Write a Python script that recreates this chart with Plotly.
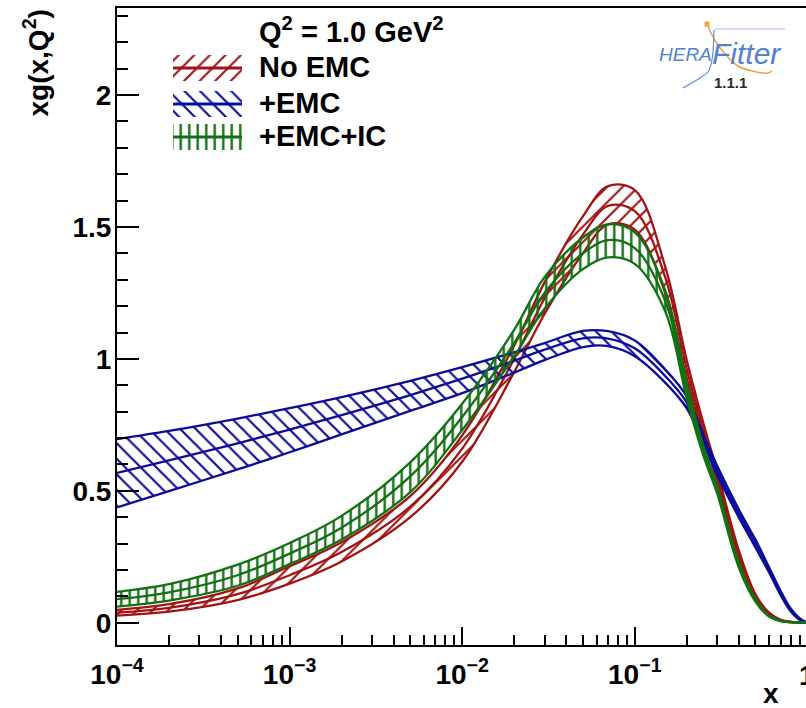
import plotly.graph_objects as go

# x grid (log spaced) and gluon momentum distributions xg(x, Q^2) at Q^2 = 1 GeV^2
x_vals = [1e-4, 2e-4, 5e-4, 1e-3, 2e-3, 5e-3, 1e-2, 2e-2, 3e-2, 5e-2, 7e-2,
          0.1, 0.15, 0.2, 0.25, 0.3, 0.4, 0.5, 0.6, 0.7, 0.8, 0.9, 1.0]

no_emc_central = [0.038, 0.056, 0.108, 0.180, 0.268, 0.440, 0.660, 1.000, 1.230, 1.470, 1.580,
                  1.560, 1.310, 0.960, 0.730, 0.555, 0.260, 0.100, 0.035, 0.010, 0.003, 0.001, 0.0]
no_emc_upper = [0.049, 0.070, 0.130, 0.214, 0.305, 0.480, 0.710, 1.050, 1.290, 1.540, 1.655,
                1.640, 1.350, 0.995, 0.755, 0.575, 0.275, 0.108, 0.038, 0.011, 0.003, 0.001, 0.0]
no_emc_lower = [0.027, 0.042, 0.086, 0.148, 0.232, 0.400, 0.610, 0.950, 1.170, 1.400, 1.510,
                1.490, 1.250, 0.925, 0.705, 0.535, 0.245, 0.093, 0.032, 0.009, 0.003, 0.001, 0.0]

emc_central = [0.568, 0.615, 0.680, 0.732, 0.787, 0.863, 0.925, 0.993, 1.035, 1.078, 1.077,
               1.040, 0.935, 0.835, 0.695, 0.578, 0.415, 0.300, 0.200, 0.112, 0.048, 0.014, 0.0]
emc_upper = [0.696, 0.727, 0.774, 0.813, 0.855, 0.917, 0.969, 1.025, 1.060, 1.106, 1.105,
             1.070, 0.960, 0.858, 0.712, 0.595, 0.430, 0.315, 0.210, 0.120, 0.054, 0.017, 0.0]
emc_lower = [0.437, 0.499, 0.581, 0.646, 0.714, 0.803, 0.870, 0.948, 0.995, 1.045, 1.048,
             1.010, 0.910, 0.812, 0.678, 0.560, 0.400, 0.285, 0.190, 0.104, 0.043, 0.011, 0.0]

emc_ic_central = [0.089, 0.115, 0.180, 0.262, 0.360, 0.555, 0.780, 1.060, 1.250, 1.400, 1.450,
                  1.420, 1.220, 0.880, 0.650, 0.505, 0.220, 0.085, 0.025, 0.007, 0.002, 0.0005, 0.0]
emc_ic_upper = [0.117, 0.146, 0.220, 0.302, 0.405, 0.608, 0.830, 1.110, 1.310, 1.460, 1.510,
                1.480, 1.260, 0.910, 0.668, 0.520, 0.230, 0.090, 0.027, 0.008, 0.002, 0.0005, 0.0]
emc_ic_lower = [0.061, 0.084, 0.140, 0.222, 0.315, 0.495, 0.730, 1.010, 1.190, 1.340, 1.385,
                1.360, 1.180, 0.850, 0.632, 0.490, 0.210, 0.080, 0.023, 0.006, 0.002, 0.0005, 0.0]

x_tick_vals = [1e-4, 1e-3, 1e-2, 1e-1]
x_tick_text = ["10<sup>\u22124</sup>", "10<sup>\u22123</sup>", "10<sup>\u22122</sup>", "10<sup>\u22121</sup>"]
y_tick_vals = [0, 0.5, 1, 1.5, 2]
y_tick_text = ["0", "0.5", "1", "1.5", "2"]

legend_labels = ["No EMC", "+EMC", "+EMC+IC"]

RED = "#a01414"
BLUE = "#0c0c9a"
GREEN = "#137013"
FONT = "Liberation Sans"

W, H = 806, 708
L, R, T, B = 117, 0, 8, 63
PW, PH = W - L - R, H - T - B

HATCH = {
    RED: dict(shape="/", size=11, solidity=0.2),
    BLUE: dict(shape="\\", size=11, solidity=0.2),
    GREEN: dict(shape="|", size=8.5, solidity=0.28),
}

fig = go.Figure()


def pattern(color):
    h = HATCH[color]
    return dict(shape=h["shape"], fgcolor=color, fgopacity=1,
                bgcolor="rgba(255,255,255,0)", size=h["size"], solidity=h["solidity"])


def add_band(lower, upper, central, color):
    line = dict(color=color, width=2.3, shape="spline", smoothing=1.0)
    fig.add_trace(go.Scatter(x=x_vals, y=lower, mode="lines", line=line,
                             hoverinfo="skip", showlegend=False))
    fig.add_trace(go.Scatter(x=x_vals, y=upper, mode="lines", line=line,
                             fill="tonexty", fillcolor="rgba(255,255,255,0)",
                             fillpattern=pattern(color),
                             hoverinfo="skip", showlegend=False))
    fig.add_trace(go.Scatter(x=x_vals, y=central, mode="lines", line=line,
                             hoverinfo="skip", showlegend=False))


add_band(no_emc_lower, no_emc_upper, no_emc_central, RED)
add_band(emc_lower, emc_upper, emc_central, BLUE)
add_band(emc_ic_lower, emc_ic_upper, emc_ic_central, GREEN)

# legend drawn on an overlay frame measured in pixels of the plot area
for color, yc, label in zip([RED, BLUE, GREEN], [68, 104, 137], legend_labels):
    x0, x1, y0, y1 = 173, 242, yc - 13, yc + 13
    fig.add_trace(go.Scatter(x=[x0, x1, x1, x0, x0], y=[y0, y0, y1, y1, y0], mode="lines",
                             line=dict(width=0, color="rgba(0,0,0,0)"),
                             fill="toself", fillcolor="rgba(255,255,255,0)",
                             fillpattern=pattern(color),
                             xaxis="x2", yaxis="y2", hoverinfo="skip", showlegend=False))
    fig.add_trace(go.Scatter(x=[x0, x1], y=[yc, yc], mode="lines",
                             line=dict(color=color, width=3),
                             xaxis="x2", yaxis="y2", hoverinfo="skip", showlegend=False))
    fig.add_annotation(x=257, y=yc - 1, xref="x2", yref="y2", text=label, showarrow=False,
                       xanchor="left", yanchor="middle",
                       font=dict(family=FONT, size=29, color="black", weight="bold"))

fig.add_annotation(x=257, y=30, xref="x2", yref="y2",
                   text="Q<sup>2</sup> = 1.0 GeV<sup>2</sup>", showarrow=False,
                   xanchor="left", yanchor="middle",
                   font=dict(family=FONT, size=29, color="black", weight="bold"))

# HERAFitter logo
fig.add_trace(go.Scatter(x=[715, 745, 785], y=[29, 29, 29], mode="lines",
                         line=dict(color="rgba(170,190,225,0.5)", width=2),
                         xaxis="x2", yaxis="y2", hoverinfo="skip", showlegend=False))
fig.add_trace(go.Scatter(x=[707, 711, 718, 728, 738, 752, 768, 772],
                         y=[23, 33, 45, 57, 66, 71, 73, 71], mode="lines",
                         line=dict(color="#f0a040", width=1.5, shape="spline"),
                         xaxis="x2", yaxis="y2", hoverinfo="skip", showlegend=False))
fig.add_trace(go.Scatter(x=[683, 690, 700, 708, 712, 714],
                         y=[88, 84, 78, 72, 60, 30], mode="lines",
                         line=dict(color="#5b8bd6", width=1.2, shape="spline"),
                         xaxis="x2", yaxis="y2", hoverinfo="skip", showlegend=False))
fig.add_trace(go.Scatter(x=[707], y=[24], mode="markers",
                         marker=dict(color="#f0a040", size=5, symbol="square"),
                         xaxis="x2", yaxis="y2", hoverinfo="skip", showlegend=False))
fig.add_annotation(x=714, y=54, xref="x2", yref="y2", text="<i>HERA</i>", showarrow=False,
                   xanchor="right", yanchor="middle",
                   font=dict(family=FONT, size=19, color="#4f82d2"))
fig.add_annotation(x=710, y=53, xref="x2", yref="y2", text="<i>Fitter</i>", showarrow=False,
                   xanchor="left", yanchor="middle",
                   font=dict(family=FONT, size=30, color="#4f82d2"))
fig.add_annotation(x=730, y=82, xref="x2", yref="y2", text="1.1.1", showarrow=False,
                   xanchor="center", yanchor="middle",
                   font=dict(family=FONT, size=15, color="#2a2a2a", weight="bold"))

# axis titles and the tick label at x = 1 (sits on the clipped right edge)
fig.add_annotation(x=(36 - L) / PW, y=1.0, xref="paper", yref="paper",
                   text="xg(x,Q<sup>2</sup>)", textangle=-90, showarrow=False,
                   xanchor="center", yanchor="top",
                   font=dict(family=FONT, size=28, color="black", weight="bold"))
fig.add_annotation(x=(781 - L) / PW, y=(H - B - 693) / PH, xref="paper", yref="paper",
                   text="x", showarrow=False, xanchor="right", yanchor="middle",
                   font=dict(family=FONT, size=28, color="black", weight="bold"))
fig.add_annotation(x=(807.4 - L) / PW, y=(H - B - 675) / PH, xref="paper", yref="paper",
                   text="1", showarrow=False, xanchor="center", yanchor="middle",
                   font=dict(family=FONT, size=28, color="black", weight="bold"))

x_minor = [m * 10.0 ** e for e in range(-4, 0) for m in range(2, 10)]
y_minor = [round(0.1 * k, 1) for k in range(0, 24) if k % 5 != 0]

fig.update_layout(
    width=W, height=H,
    margin=dict(l=L, r=R, t=T, b=B, pad=0),
    paper_bgcolor="white", plot_bgcolor="white",
    showlegend=False,
    font=dict(family=FONT, color="black"),
    xaxis=dict(type="log", range=[-4, -4 + PW / 172.6],
               showgrid=False, zeroline=False,
               showline=True, linecolor="black", linewidth=2, mirror=True,
               ticks="inside", ticklen=18, tickwidth=1.5, tickcolor="black",
               tickmode="array", tickvals=x_tick_vals, ticktext=x_tick_text,
               tickfont=dict(family=FONT, size=28, color="black", weight="bold"),
               ticklabelstandoff=3,
               minor=dict(tickmode="array", tickvals=x_minor, ticks="inside",
                          ticklen=10, tickwidth=1.5, tickcolor="black", showgrid=False)),
    yaxis=dict(range=[-0.0845, 2.330], showgrid=False, zeroline=False,
               showline=True, linecolor="black", linewidth=2, mirror=False,
               ticks="inside", ticklen=22, tickwidth=1.5, tickcolor="black",
               tickmode="array", tickvals=y_tick_vals, ticktext=y_tick_text,
               tickfont=dict(family=FONT, size=28, color="black", weight="bold"),
               ticklabelstandoff=-2,
               minor=dict(tickmode="array", tickvals=y_minor, ticks="inside",
                          ticklen=11, tickwidth=1.5, tickcolor="black", showgrid=False)),
    xaxis2=dict(overlaying="x", anchor="y2", range=[L, W - R], visible=False, fixedrange=True),
    yaxis2=dict(overlaying="y", anchor="x2", range=[H - B, T], visible=False, fixedrange=True),
)

fig.write_html("out.html")
